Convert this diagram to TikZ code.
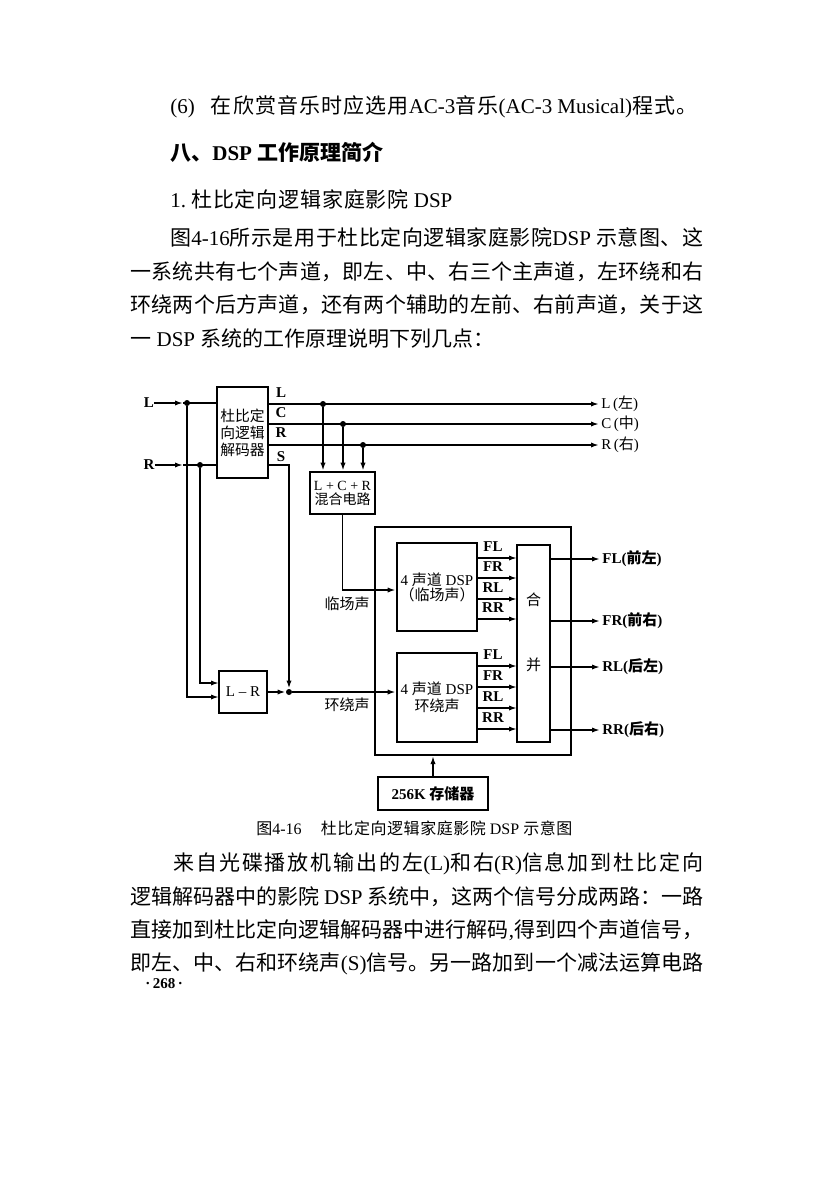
\documentclass[tikz,border=0pt]{standalone}
\usepackage{fontspec}
\setmainfont{Liberation Serif}
\newfontfamily\cjk{Noto Sans CJK SC}
\newcommand\zh[1]{{\cjk #1}}
\usetikzlibrary{arrows.meta}
\newskip\cjkskip
\cjkskip=0pt
\newcount\cjkcc
\cjkcc="4E00
\loop \XeTeXcharclass\cjkcc=7 \advance\cjkcc by 1 \ifnum\cjkcc<"A000 \repeat
\XeTeXcharclass"3001=7
\XeTeXcharclass"3002=7
\XeTeXcharclass"FF0C=7
\XeTeXcharclass"FF1A=7
\XeTeXcharclass"FF08=7
\XeTeXcharclass"FF09=7
\XeTeXinterchartokenstate=1
\XeTeXinterchartoks 7 7 = {\hskip\cjkskip\relax}
\newcommand\sline[2]{\makebox[#1][s]{\cjkskip=0pt plus 1fil\relax #2}}
\begin{document}
\begin{tikzpicture}[x=0.5pt,y=-0.5pt,
  box/.style={draw,line width=1.3pt,inner sep=0pt,align=center},
  wire/.style={line width=0.9pt},
  arr/.style={wire,-{Latex[length=4pt,width=2.6pt]}},
  dot/.style={circle,fill,inner sep=0pt,minimum size=3pt},
  lab/.style={inner sep=0pt,font=\fontsize{7.5}{9}\selectfont},
  blab/.style={inner sep=0pt,font=\fontsize{7.5}{9}\selectfont\bfseries},
  zlab/.style={inner sep=0pt,align=center,font=\cjk\fontsize{7.5}{7.5}\selectfont},
  body/.style={anchor=base west,inner sep=0pt,font=\fontsize{10.5}{12}\selectfont}]
\useasboundingbox (0,0) rectangle (818,1200);
\fill[white] (0,0) rectangle (818,1200);

% ---------- text above ----------
\node[body] (t1) at (170,113) {\sline{263.5pt}{(6)\hspace*{8pt}\zh{在欣赏音乐时应选用}AC-3\zh{音乐}(AC-3 Musical)\zh{程式。}}};
\node[body,font=\fontsize{10.5}{12}\selectfont\bfseries] (t2) at (170,160) {\zh{八、}DSP \zh{工作原理简介}};
\node[body] (t3) at (170,207) {\sline{141pt}{1.\ \zh{杜比定向逻辑家庭影院} DSP}};
\node[body] (t4) at (170,245) {\sline{266.5pt}{\zh{图}4-16\zh{所示是用于杜比定向逻辑家庭影院}DSP \zh{示意图、这}}};
\node[body] (t5) at (130,279) {\sline{286.5pt}{\zh{一系统共有七个声道，即左、中、右三个主声道，左环绕和右}}};
\node[body] (t6) at (130,312) {\sline{286.5pt}{\zh{环绕两个后方声道，还有两个辅助的左前、右前声道，关于这}}};
\node[body] (t7) at (130,346) {\zh{一} DSP \zh{系统的工作原理说明下列几点：}};

% ---------- boxes ----------
\node[box,minimum width=25.5pt,minimum height=45.5pt,font=\cjk\fontsize{7.4}{8.5}\selectfont] (dec) at (242.5,432.5) {杜比定\\向逻辑\\解码器};
\node[box,minimum width=24pt,minimum height=21pt,font=\fontsize{7.5}{9}\selectfont] (lr) at (243,692) {L -- R};
\node[box,minimum width=32.5pt,minimum height=21pt,font=\fontsize{7}{7}\selectfont] (lcr) at (342.5,493) {L + C + R\\\zh{混合电路}};
\node[draw,line width=1pt,minimum width=98pt,minimum height=114pt,inner sep=0pt] (outer) at (473,641) {};
\node[box,minimum width=40pt,minimum height=44pt,font=\fontsize{7.5}{7.5}\selectfont] (dsp1) at (437,587) {4 \zh{声道} DSP\\\zh{（临场声）}};
\node[box,minimum width=40pt,minimum height=44.5pt,font=\fontsize{7.5}{8.5}\selectfont] (dsp2) at (437,697.5) {4 \zh{声道} DSP\\\zh{环绕声}};
\node[box,minimum width=16.5pt,minimum height=98.5pt] (merge) at (533.5,643.5) {};
\node[zlab] (he) at (533.5,600) {合};
\node[zlab] (bing) at (533.5,665) {并};
\node[box,minimum width=55pt,minimum height=16.5pt,font=\fontsize{7.5}{9}\selectfont\bfseries] (mem) at (433,793.5) {256K \zh{存储器}};

% ---------- inputs ----------
\node[blab] (Lin) at (149,403) {L};
\node[blab] (Rin) at (149,465) {R};
\coordinate (aL) at (183,403);
\coordinate (aR) at (183,465);
\node[dot] (jL) at (187,403) {};
\node[dot] (jR) at (200,465) {};
\draw[arr] (Lin.east) -- (aL);
\draw[arr] (Rin.east) -- (aR);
\draw[wire] (aL) -- (dec.west |- jL);
\draw[wire] (aR) -- (dec.west |- jR);
\coordinate (inL) at (219,697);
\coordinate (inR) at (219,683);
\draw[arr] (jL) -- (jL |- inL) -- (inL);
\draw[arr] (jR) -- (jR |- inR) -- (inR);

% ---------- decoder outputs ----------
\node[blab] (oLl) at (281,393) {L};
\node[blab] (oCl) at (281,413) {C};
\node[blab] (oRl) at (281,433) {R};
\node[blab] (oSl) at (281,457) {S};
\node[lab,anchor=west,inner sep=1pt] (Lout) at (599,404) {L\,(\zh{左})};
\node[lab,anchor=west,inner sep=1pt] (Cout) at (599,424) {C\,(\zh{中})};
\node[lab,anchor=west,inner sep=1pt] (Rout) at (599,445) {R\,(\zh{右})};
\draw[arr] (dec.east |- Lout) -- (Lout.west);
\draw[arr] (dec.east |- Cout) -- (Cout.west);
\draw[arr] (dec.east |- Rout) -- (Rout.west);
\node[dot] (dL) at (323,404) {};
\node[dot] (dC) at (343,424) {};
\node[dot] (dR) at (363,445) {};
\draw[arr] (dL) -- (dL |- lcr.north);
\draw[arr] (dC) -- (dC |- lcr.north);
\draw[arr] (dR) -- (dR |- lcr.north);

% ---------- S and L-R path ----------
\node[dot] (jS) at (289,692) {};
\draw[arr] (dec.east |- Rin) -- (jS |- Rin) -- (jS.north);
\draw[arr] (lr.east) -- (jS.west);
\draw[arr] (jS) -- (jS -| dsp2.west);
\node[zlab] (hrs) at (347,705) {环绕声};

% ---------- L+C+R path ----------
\coordinate (k1) at (342.5,590);
\draw[arr] (lcr.south) -- (k1) -- (k1 -| dsp1.west);
\node[zlab] (lcs) at (347,604) {临场声};

% ---------- DSP to merge ----------
\foreach \y/\t [count=\i] in {558/FL,578/FR,599/RL,619/RR} {
  \coordinate (u\i) at (517,\y);
  \draw[arr] (dsp1.east |- u\i) -- (u\i);
  \node[blab] (ul\i) at (493,\y-11) {\t};
}
\foreach \y/\t [count=\i] in {666/FL,687/FR,708/RL,729/RR} {
  \coordinate (v\i) at (517,\y);
  \draw[arr] (dsp2.east |- v\i) -- (v\i);
  \node[blab] (vl\i) at (493,\y-11) {\t};
}

% ---------- merge outputs ----------
\foreach \y/\t [count=\i] in {559/{FL(\zh{前左})},621/{FR(\zh{前右})},667/{RL(\zh{后左})},730/{RR(\zh{后右})}} {
  \node[blab,anchor=west,inner sep=1pt] (w\i) at (600,\y) {\t};
  \draw[arr] (merge.east |- w\i) -- (w\i.west);
}

% ---------- memory ----------
\draw[arr] (mem.north) -- (mem.north |- outer.south);

% ---------- caption ----------
\node[anchor=base west,inner sep=0pt,font=\fontsize{8}{9}\selectfont] (cap) at (256,834) {\sline{158pt}{\zh{图}4-16\hspace*{1.2em}\zh{杜比定向逻辑家庭影院} DSP \zh{示意图}}};

% ---------- text below ----------
\node[body] (t9) at (173,870) {\sline{265pt}{\zh{来自光碟播放机输出的左}(L)\zh{和右}(R)\zh{信息加到杜比定向}}};
\node[body] (t10) at (130,904) {\sline{286.5pt}{\zh{逻辑解码器中的影院} DSP \zh{系统中，这两个信号分成两路：一路}}};
\node[body] (t11) at (130,937) {\sline{286.5pt}{\zh{直接加到杜比定向逻辑解码器中进行解码},\zh{得到四个声道信号，}}};
\node[body] (t12) at (130,970) {\sline{286.5pt}{\zh{即左、中、右和环绕声}(S)\zh{信号。另一路加到一个减法运算电路}}};
\node[anchor=base west,inner sep=0pt,font=\fontsize{7.5}{9}\selectfont\bfseries] (t13) at (145,988) {·\,268\,·};
\end{tikzpicture}
\end{document}
